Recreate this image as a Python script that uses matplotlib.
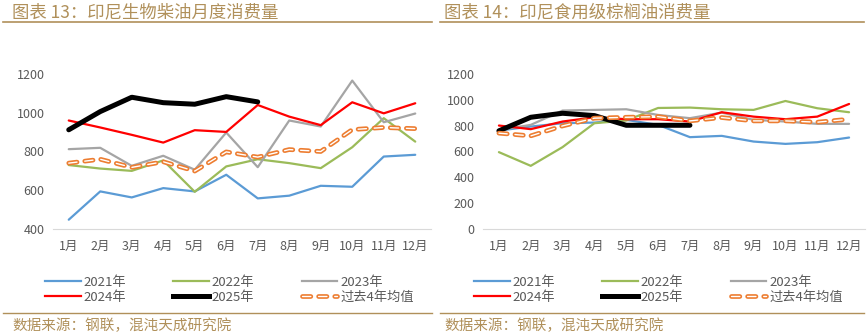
import numpy as np
import matplotlib.pyplot as plt
import matplotlib.patheffects as pe
from matplotlib.lines import Line2D

plt.rcParams['font.family'] = ['Noto Sans CJK SC', 'DejaVu Sans']

# data
months = ['1月', '2月', '3月', '4月', '5月', '6月', '7月', '8月', '9月', '10月', '11月', '12月']
names = ['2021年', '2022年', '2023年', '2024年', '2025年', '过去4年均值']

# 图表13: 生物柴油
bio_2021 = [448, 594, 563, 611, 594, 680, 558, 572, 623, 618, 774, 783]
bio_2022 = [730, 712, 700, 754, 592, 723, 760, 740, 714, 822, 972, 851]
bio_2023 = [812, 819, 726, 778, 706, 898, 719, 960, 929, 1166, 951, 996]
bio_2024 = [960, 924, 886, 846, 910, 901, 1040, 980, 936, 1054, 997, 1049]
bio_2025 = [912, 1006, 1080, 1052, 1044, 1083, 1056]
bio_avg = [740, 760, 718, 747, 699, 798, 771, 810, 800, 913, 924, 918]

# 图表14: 食用级棕榈油
food_2021 = [762, 793, 819, 824, 845, 806, 711, 721, 677, 659, 672, 708]
food_2022 = [595, 489, 634, 819, 840, 937, 940, 927, 922, 991, 935, 904]
food_2023 = [767, 806, 917, 922, 927, 883, 858, 901, 845, 832, 814, 814]
food_2024 = [801, 773, 832, 865, 850, 850, 832, 904, 870, 850, 870, 968]
food_2025 = [760, 865, 896, 878, 803, 803, 803]
food_avg = [742, 721, 798, 858, 865, 870, 837, 863, 837, 837, 827, 850]

gold = '#b0905a'
orange = '#ed7d31'
W, H = 868, 335
avg_style = dict(color='white', lw=1.0, dashes=(6.0, 5.6), dash_capstyle='round',
                 path_effects=[pe.Stroke(linewidth=3.4, foreground=orange), pe.Normal()])

fig = plt.figure(figsize=(W / 100, H / 100), dpi=100)


def px(x0, y0, w, h):
    return [x0 / W, 1 - (y0 + h) / H, w / W, h / H]


def draw(ax, series, ylim, yticks):
    x = np.arange(12)
    c = ['#5b9bd5', '#9bbb59', '#a5a5a5', '#ff0000']
    for s, col in zip(series[:4], c):
        ax.plot(x, s, color=col, lw=1.6, solid_capstyle='round')
    ax.plot(x[:len(series[4])], series[4], color='black', lw=3.6,
            solid_capstyle='round', solid_joinstyle='round')
    ax.plot(x, series[5], **avg_style)
    ax.set_xlim(-0.5, 11.5)
    ax.set_ylim(*ylim)
    ax.set_yticks(yticks)
    ax.set_xticks(x)
    ax.set_xticklabels(months)
    for s in ['top', 'right', 'left']:
        ax.spines[s].set_visible(False)
    ax.spines['bottom'].set_color('#d9d9d9')
    ax.tick_params(length=0, colors='#595959', labelsize=9)
    ax.tick_params(axis='y', pad=6)
    ax.tick_params(axis='x', pad=8)


def legend(x0, y0):
    hs = [Line2D([], [], color='#5b9bd5', lw=1.6),
          Line2D([], [], color='#ff0000', lw=1.6),
          Line2D([], [], color='#9bbb59', lw=1.6),
          Line2D([], [], color='black', lw=3.6),
          Line2D([], [], color='#a5a5a5', lw=1.6),
          Line2D([], [], **avg_style)]
    labs = [names[0], names[3], names[1], names[4], names[2], names[5]]
    fig.legend(hs, labs, ncol=3, loc='upper left', bbox_to_anchor=(x0 / W, 1 - y0 / H),
               frameon=False, fontsize=9.5, handlelength=2.7, handletextpad=0.2,
               columnspacing=3.6, labelspacing=0.15, borderpad=0, borderaxespad=0,
               labelcolor='#595959')


ax1 = fig.add_axes(px(53, 74, 378, 155))
draw(ax1, [bio_2021, bio_2022, bio_2023, bio_2024, bio_2025, bio_avg],
     (400, 1200), np.arange(400, 1201, 200))
ax2 = fig.add_axes(px(483, 74, 382, 155))
draw(ax2, [food_2021, food_2022, food_2023, food_2024, food_2025, food_avg],
     (0, 1200), np.arange(0, 1201, 200))

legend(45, 276)
legend(474, 276)

# titles, rules and source
fig.text(12 / W, 1 - 12 / H, '图表 13：印尼生物柴油月度消费量', color=gold,
         fontsize=12.5, va='center', ha='left')
fig.text(444 / W, 1 - 12 / H, '图表 14：印尼食用级棕榈油消费量', color=gold,
         fontsize=12.5, va='center', ha='left')
for xa, xb in [(3, 432), (440, 864)]:
    fig.add_artist(Line2D([xa / W, xb / W], [1 - 22 / H] * 2, color=gold, lw=1.2))
    fig.add_artist(Line2D([xa / W, xb / W], [1 - 313 / H] * 2, color=gold, lw=1.0))
fig.text(12 / W, 1 - 326 / H, '数据来源：钢联，混沌天成研究院', color=gold,
         fontsize=10.5, va='center', ha='left')
fig.text(444 / W, 1 - 326 / H, '数据来源：钢联，混沌天成研究院', color=gold,
         fontsize=10.5, va='center', ha='left')

plt.savefig('out.png', dpi=100)
